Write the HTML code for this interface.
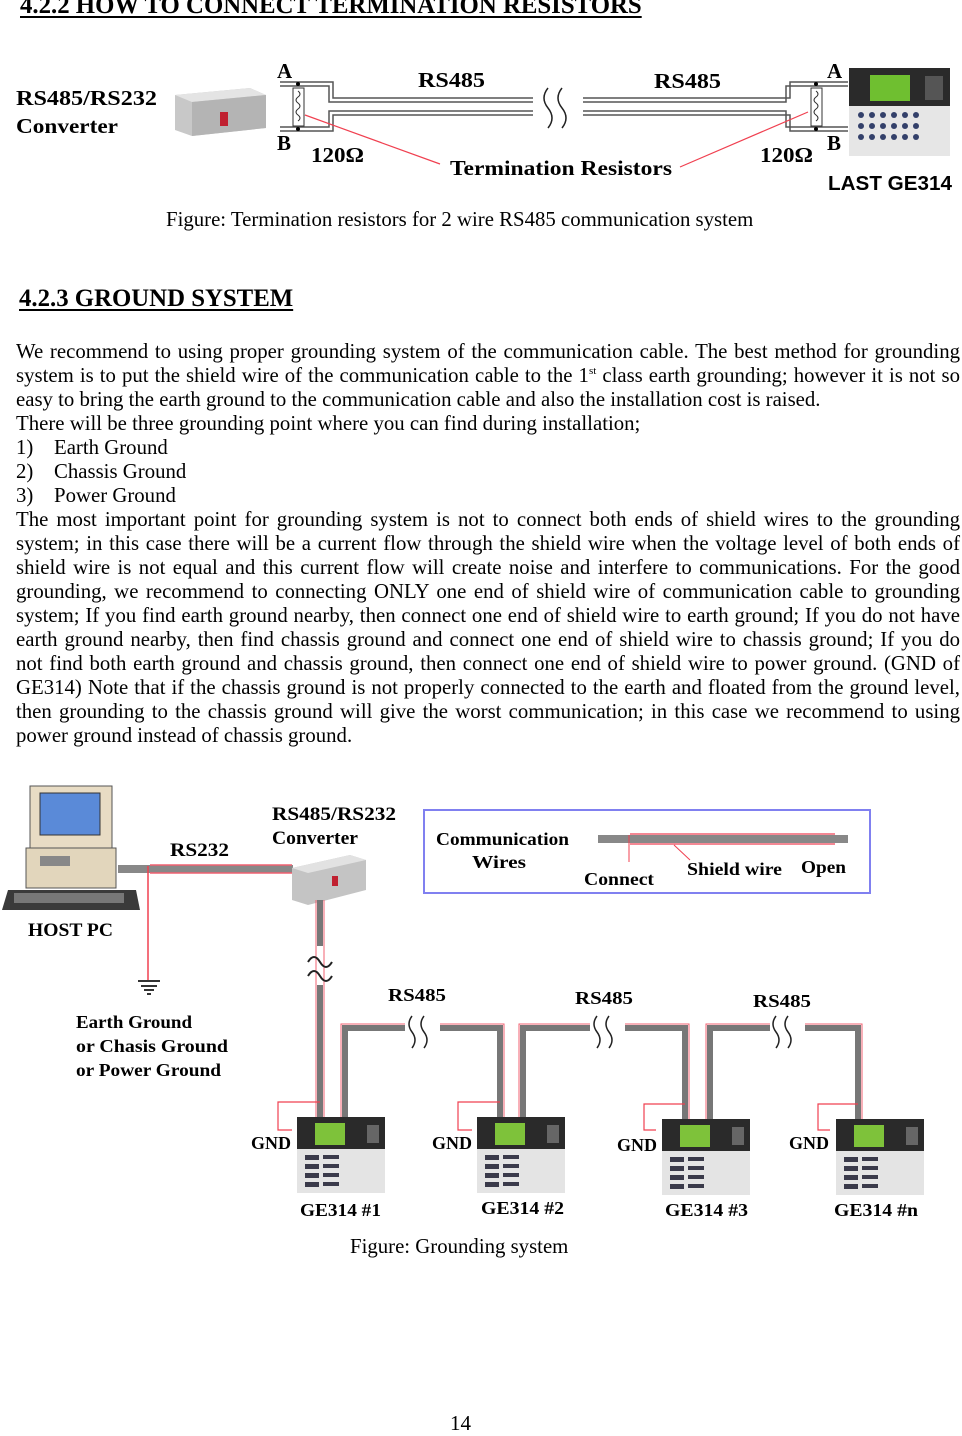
<!DOCTYPE html>
<html><head><meta charset="utf-8">
<style>
*{margin:0;padding:0}
body{width:962px;height:1432px;background:#fff;position:relative;overflow:hidden;font-family:"Liberation Serif",serif;color:#000}
.a{position:absolute;white-space:nowrap}
.h{font-weight:bold;text-decoration:underline;text-decoration-thickness:2px;text-underline-offset:3px}
.ln{position:absolute;left:16px;width:944px;font-size:20.8px;line-height:24px;height:24px;white-space:nowrap}
.j{text-align:justify;text-align-last:justify;white-space:normal}
svg text{font-family:"Liberation Serif",serif;font-weight:bold}
</style></head><body>
<div class="a h" style="left:20px;top:-8px;font-size:24.8px">4.2.2 HOW TO CONNECT TERMINATION RESISTORS</div>

<svg class="a" style="left:0;top:55px" width="962" height="140" viewBox="0 55 962 140">
 <g font-size="21">
 <text x="16" y="105" textLength="141" lengthAdjust="spacingAndGlyphs">RS485/RS232</text><text x="16" y="133" textLength="102" lengthAdjust="spacingAndGlyphs">Converter</text>
 </g>
 <polygon points="175,95 250,88 266,95 266,128 192,136 175,130" fill="#c8c8c8"/>
 <polygon points="175,95 250,88 266,95 192,102" fill="#e4e4e4"/>
 <polygon points="192,102 266,95 266,128 192,136" fill="#b4b4b4"/>
 <rect x="220" y="112" width="8" height="14" fill="#c02030"/>
 <g fill="none" stroke="#555" stroke-width="1.5">
  <path d="M280,82 H333 V98 H533"/><path d="M280,86 H329 V102 H533"/>
  <path d="M280,131 H333 V115 H533"/><path d="M280,127 H329 V111 H533"/>
  <path d="M583,98 H790 V82 H848"/><path d="M583,102 H786 V86 H848"/>
  <path d="M583,115 H790 V131 H848"/><path d="M583,111 H786 V127 H848"/>
  <path d="M548,88 q-8,10 0,20 q8,10 0,20" stroke="#222"/><path d="M562,88 q-8,10 0,20 q8,10 0,20" stroke="#222"/>
 </g>
 <rect x="293" y="88" width="11" height="38" fill="#fff" stroke="#333"/>
 <path d="M298,91 q4,3 0,6 q-4,3 0,6 q4,3 0,6 q-4,3 0,6 q4,3 0,6" fill="none" stroke="#333"/>
 <rect x="811" y="88" width="11" height="38" fill="#fff" stroke="#333"/>
 <path d="M816,91 q4,3 0,6 q-4,3 0,6 q4,3 0,6 q-4,3 0,6 q4,3 0,6" fill="none" stroke="#333"/>
 <circle cx="298" cy="84" r="2"/><circle cx="298" cy="129" r="2"/><circle cx="816" cy="84" r="2"/><circle cx="816" cy="129" r="2"/>
 <line x1="305" y1="115" x2="440" y2="164" stroke="#f04050" stroke-width="1.2"/>
 <line x1="808" y1="112" x2="680" y2="167" stroke="#f04050" stroke-width="1.2"/>
 <g font-size="21">
 <text x="277" y="78">A</text><text x="277" y="150">B</text>
 <text x="827" y="78">A</text><text x="827" y="150">B</text>
 <text x="418" y="87" textLength="67" lengthAdjust="spacingAndGlyphs">RS485</text><text x="654" y="88" textLength="67" lengthAdjust="spacingAndGlyphs">RS485</text>
 <text x="311" y="162" textLength="53" lengthAdjust="spacingAndGlyphs">120Ω</text><text x="760" y="162" textLength="53" lengthAdjust="spacingAndGlyphs">120Ω</text>
 <text x="450" y="175" textLength="222" lengthAdjust="spacingAndGlyphs">Termination Resistors</text>
 </g>
 <rect x="849" y="68" width="101" height="88" fill="#e6e6e6"/>
 <rect x="849" y="68" width="101" height="38" fill="#2a2a2a"/>
 <rect x="870" y="75" width="40" height="26" fill="#6fbf30"/>
 <rect x="925" y="76" width="18" height="24" fill="#555"/>
 <g fill="#33406a">
  <circle cx="861" cy="115" r="3"/><circle cx="872" cy="115" r="3"/><circle cx="883" cy="115" r="3"/><circle cx="894" cy="115" r="3"/><circle cx="905" cy="115" r="3"/><circle cx="916" cy="115" r="3"/>
  <circle cx="861" cy="126" r="3"/><circle cx="872" cy="126" r="3"/><circle cx="883" cy="126" r="3"/><circle cx="894" cy="126" r="3"/><circle cx="905" cy="126" r="3"/><circle cx="916" cy="126" r="3"/>
  <circle cx="861" cy="137" r="3"/><circle cx="872" cy="137" r="3"/><circle cx="883" cy="137" r="3"/><circle cx="894" cy="137" r="3"/><circle cx="905" cy="137" r="3"/><circle cx="916" cy="137" r="3"/>
 </g>
 <text x="828" y="190" font-size="20" textLength="124" lengthAdjust="spacingAndGlyphs" style="font-family:'Liberation Sans',sans-serif">LAST GE314</text>
</svg>

<div class="a" style="left:166px;top:208px;font-size:20.8px">Figure: Termination resistors for 2 wire RS485 communication system</div>

<div class="a h" style="left:19px;top:285px;font-size:24.8px">4.2.3 GROUND SYSTEM</div>

<div class="ln j" style="top:340px">We recommend to using proper grounding system of the communication cable. The best method for grounding</div>
<div class="ln j" style="top:364px">system is to put the shield wire of the communication cable to the 1<sup style="font-size:11px;line-height:0">st</sup> class earth grounding; however it is not so</div>
<div class="ln" style="top:388px">easy to bring the earth ground to the communication cable and also the installation cost is raised.</div>
<div class="ln" style="top:412px">There will be three grounding point where you can find during installation;</div>
<div class="ln" style="top:436px">1)<span style="position:absolute;left:38px">Earth Ground</span></div>
<div class="ln" style="top:460px">2)<span style="position:absolute;left:38px">Chassis Ground</span></div>
<div class="ln" style="top:484px">3)<span style="position:absolute;left:38px">Power Ground</span></div>
<div class="ln j" style="top:508px">The most important point for grounding system is not to connect both ends of shield wires to the grounding</div>
<div class="ln j" style="top:532px">system; in this case there will be a current flow through the shield wire when the voltage level of both ends of</div>
<div class="ln j" style="top:556px">shield wire is not equal and this current flow will create noise and interfere to communications. For the good</div>
<div class="ln j" style="top:580px">grounding, we recommend to connecting ONLY one end of shield wire of communication cable to grounding</div>
<div class="ln j" style="top:604px">system; If you find earth ground nearby, then connect one end of shield wire to earth ground; If you do not have</div>
<div class="ln j" style="top:628px">earth ground nearby, then find chassis ground and connect one end of shield wire to chassis ground; If you do</div>
<div class="ln j" style="top:652px">not find both earth ground and chassis ground, then connect one end of shield wire to power ground. (GND of</div>
<div class="ln j" style="top:676px">GE314) Note that if the chassis ground is not properly connected to the earth and floated from the ground level,</div>
<div class="ln j" style="top:700px">then grounding to the chassis ground will give the worst communication; in this case we recommend to using</div>
<div class="ln" style="top:724px">power ground instead of chassis ground.</div>

<svg class="a" style="left:0;top:780px" width="962" height="450" viewBox="0 780 962 450">
 <defs>
  <g id="dev">
   <rect x="0" y="0" width="88" height="76" fill="#e4e4e4"/>
   <rect x="0" y="0" width="88" height="32" fill="#2a2a2a"/>
   <rect x="18" y="6" width="30" height="22" fill="#7ec23a"/>
   <rect x="70" y="8" width="12" height="18" fill="#666"/>
   <g fill="#3a3a4a">
    <rect x="8" y="38" width="14" height="5"/><rect x="26" y="38" width="16" height="4"/>
    <rect x="8" y="47" width="14" height="5"/><rect x="26" y="47" width="16" height="4"/>
    <rect x="8" y="56" width="14" height="5"/><rect x="26" y="56" width="16" height="4"/>
    <rect x="8" y="65" width="14" height="5"/><rect x="26" y="65" width="16" height="4"/>
   </g>
  </g>
 </defs>
 <rect x="30" y="786" width="82" height="62" fill="#e8dcc4" stroke="#555"/>
 <rect x="40" y="793" width="60" height="42" fill="#5a8ad8" stroke="#333"/>
 <rect x="26" y="848" width="90" height="40" fill="#e2d6bc" stroke="#555"/>
 <rect x="40" y="856" width="30" height="10" fill="#888"/>
 <polygon points="8,890 136,890 140,910 2,910" fill="#3a3a3a"/>
 <rect x="14" y="893" width="110" height="10" fill="#777"/>
 <text x="28" y="936" font-size="19" textLength="85" lengthAdjust="spacingAndGlyphs">HOST PC</text>
 <rect x="118" y="865" width="175" height="8" fill="#888"/>
 <line x1="150" y1="865" x2="292" y2="865" stroke="#f06070" stroke-width="1.5"/>
 <line x1="150" y1="873" x2="292" y2="873" stroke="#f06070" stroke-width="1.5"/>
 <line x1="148" y1="866" x2="148" y2="980" stroke="#f04050" stroke-width="1.5"/>
 <g stroke="#333" stroke-width="2"><line x1="138" y1="981" x2="160" y2="981"/><line x1="141" y1="986" x2="157" y2="986"/><line x1="144" y1="990" x2="154" y2="990"/><line x1="147" y1="994" x2="151" y2="994"/></g>
 <text x="170" y="856" font-size="19" textLength="59" lengthAdjust="spacingAndGlyphs">RS232</text>
 <g font-size="18"><text x="76" y="1028" textLength="116" lengthAdjust="spacingAndGlyphs">Earth Ground</text><text x="76" y="1052" textLength="152" lengthAdjust="spacingAndGlyphs">or Chasis Ground</text><text x="76" y="1076" textLength="145" lengthAdjust="spacingAndGlyphs">or Power Ground</text></g>
 <polygon points="292,868 350,855 366,860 366,890 308,905 292,900" fill="#c4c4c4"/>
 <polygon points="292,868 350,855 366,860 308,873" fill="#e2e2e2"/>
 <rect x="332" y="876" width="6" height="10" fill="#c02030"/>
 <text x="272" y="820" font-size="19" textLength="124" lengthAdjust="spacingAndGlyphs">RS485/RS232</text><text x="272" y="844" font-size="19" textLength="86" lengthAdjust="spacingAndGlyphs">Converter</text>
 <rect x="317" y="900" width="6" height="46" fill="#777"/>
 <rect x="317" y="985" width="6" height="134" fill="#777"/>
 <line x1="316" y1="900" x2="316" y2="1119" stroke="#f06070"/><line x1="324" y1="900" x2="324" y2="1119" stroke="#f06070"/>
 <path d="M308,962 q6,-10 12,0 q6,10 12,0 M308,976 q6,-10 12,0 q6,10 12,0" fill="none" stroke="#222" stroke-width="2"/>
 <g fill="none" stroke="#777" stroke-width="6">
  <path d="M345,1120 V1028 H405"/><path d="M440,1028 H500 V1120"/>
  <path d="M523,1120 V1028 H590"/><path d="M625,1028 H685 V1120"/>
  <path d="M710,1120 V1028 H770"/><path d="M805,1028 H858 V1120"/>
 </g>
 <g fill="none" stroke="#f06070" stroke-width="1">
  <path d="M341,1120 V1024 H405"/><path d="M440,1024 H504 V1120"/>
  <path d="M519,1120 V1024 H590"/><path d="M625,1024 H689 V1120"/>
  <path d="M706,1120 V1024 H770"/><path d="M805,1024 H862 V1120"/>
 </g>
 <g fill="none" stroke="#222" stroke-width="1.5">
  <path d="M412,1016 q-6,8 0,16 q6,8 0,16 M424,1016 q-6,8 0,16 q6,8 0,16"/>
  <path d="M597,1016 q-6,8 0,16 q6,8 0,16 M609,1016 q-6,8 0,16 q6,8 0,16"/>
  <path d="M776,1016 q-6,8 0,16 q6,8 0,16 M788,1016 q-6,8 0,16 q6,8 0,16"/>
 </g>
 <g font-size="18"><text x="388" y="1001" textLength="58" lengthAdjust="spacingAndGlyphs">RS485</text><text x="575" y="1004" textLength="58" lengthAdjust="spacingAndGlyphs">RS485</text><text x="753" y="1007" textLength="58" lengthAdjust="spacingAndGlyphs">RS485</text></g>
 <g fill="none" stroke="#f04050" stroke-width="1.2">
  <path d="M292,1130 H278 V1102 H320"/><path d="M472,1130 H458 V1102 H500"/>
  <path d="M656,1130 H644 V1104 H685"/><path d="M830,1130 H818 V1104 H858"/>
 </g>
 <use href="#dev" x="297" y="1117"/><use href="#dev" x="477" y="1117"/><use href="#dev" x="662" y="1119"/><use href="#dev" x="836" y="1119"/>
 <g font-size="18"><text x="251" y="1149">GND</text><text x="432" y="1149">GND</text><text x="617" y="1151">GND</text><text x="789" y="1149">GND</text>
 <text x="300" y="1216" textLength="81" lengthAdjust="spacingAndGlyphs">GE314 #1</text><text x="481" y="1214" textLength="83" lengthAdjust="spacingAndGlyphs">GE314 #2</text><text x="665" y="1216" textLength="83" lengthAdjust="spacingAndGlyphs">GE314 #3</text><text x="834" y="1216" textLength="84" lengthAdjust="spacingAndGlyphs">GE314 #n</text></g>
 <rect x="424" y="810" width="446" height="83" fill="#fff" stroke="#8080f0" stroke-width="2"/>
 <text x="436" y="845" font-size="18" textLength="133" lengthAdjust="spacingAndGlyphs">Communication</text><text x="472" y="868" font-size="18" textLength="54" lengthAdjust="spacingAndGlyphs">Wires</text>
 <rect x="598" y="835" width="250" height="8" fill="#888"/>
 <line x1="630" y1="834" x2="835" y2="834" stroke="#f06070" stroke-width="1.5"/>
 <line x1="630" y1="844" x2="835" y2="844" stroke="#f06070" stroke-width="1.5"/>
 <line x1="629" y1="835" x2="629" y2="862" stroke="#f04050"/>
 <line x1="674" y1="845" x2="690" y2="860" stroke="#f04050"/>
 <g font-size="18"><text x="584" y="885" textLength="70" lengthAdjust="spacingAndGlyphs">Connect</text><text x="687" y="875" textLength="95" lengthAdjust="spacingAndGlyphs">Shield wire</text><text x="801" y="873" textLength="45" lengthAdjust="spacingAndGlyphs">Open</text></g>
</svg>

<div class="a" style="left:350px;top:1235px;font-size:20.8px">Figure: Grounding system</div>
<div class="a" style="left:450px;top:1411px;font-size:21px">14</div>
</body></html>
